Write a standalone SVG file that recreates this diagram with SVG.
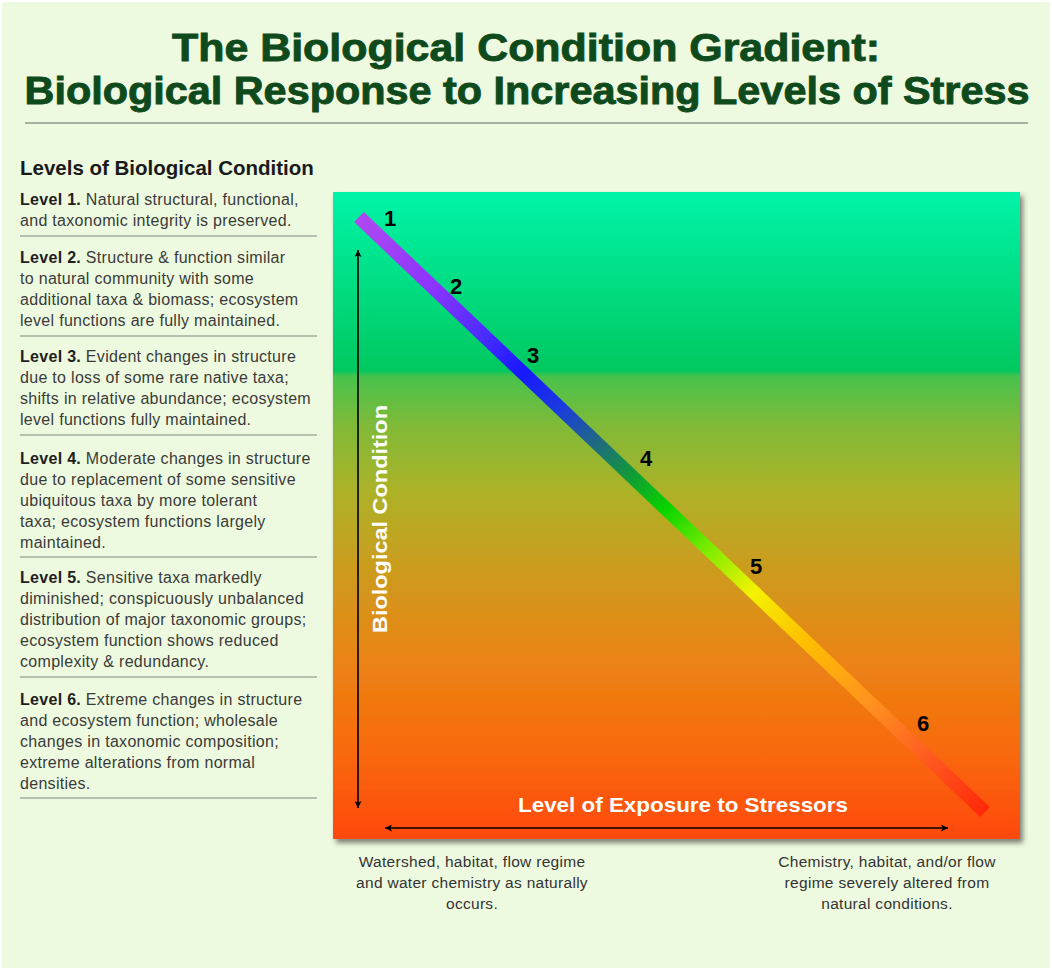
<svg xmlns="http://www.w3.org/2000/svg" width="1052" height="971" viewBox="0 0 1052 971">
  <defs>
    <style>
      .title { font-family: "Liberation Sans", Arial, sans-serif; font-weight: bold; font-size: 38px; fill: #0f4a1d; stroke: #0f4a1d; stroke-width: 0.9; }
      .head { font-family: "Liberation Sans", Arial, sans-serif; font-weight: bold; font-size: 20.5px; fill: #1a1a1a; }
      .lvl { font-family: "Liberation Sans", Arial, sans-serif; font-size: 16px; letter-spacing: 0.3px; fill: #3a3a3a; }
      .lvl tspan.b { font-weight: bold; fill: #1e1e1e; }
      .sep { stroke: #a4ac9c; stroke-width: 1.5; }
      .num { font-family: "Liberation Sans", Arial, sans-serif; font-weight: bold; font-size: 22px; fill: #000; }
      .axis { font-family: "Liberation Sans", Arial, sans-serif; font-weight: bold; font-size: 21px; fill: #ffffff; }
      .cap { font-family: "Liberation Sans", Arial, sans-serif; font-size: 15.5px; letter-spacing: 0.3px; fill: #333; text-anchor: middle; }
      .arr { stroke: #000; stroke-width: 1.6; fill: none; }
    </style>
    <linearGradient id="boxGrad" x1="0" y1="192" x2="0" y2="840" gradientUnits="userSpaceOnUse">
      <stop offset="0" stop-color="#00f4a8"/>
      <stop offset="0.275" stop-color="#00c860"/>
      <stop offset="0.285" stop-color="#48c24c"/>
      <stop offset="0.36" stop-color="#80ba38"/>
      <stop offset="0.46" stop-color="#acb228"/>
      <stop offset="0.58" stop-color="#cc9c1e"/>
      <stop offset="0.72" stop-color="#ea8414"/>
      <stop offset="0.86" stop-color="#f86a0c"/>
      <stop offset="1" stop-color="#ff4810"/>
    </linearGradient>
    <linearGradient id="barGrad" x1="359" y1="217" x2="985" y2="812" gradientUnits="userSpaceOnUse">
      <stop offset="0" stop-color="#b048f0"/>
      <stop offset="0.12" stop-color="#8a34ff"/>
      <stop offset="0.2" stop-color="#4a2cff"/>
      <stop offset="0.26" stop-color="#1818ff"/>
      <stop offset="0.32" stop-color="#1a3ae0"/>
      <stop offset="0.38" stop-color="#206a80"/>
      <stop offset="0.44" stop-color="#10a030"/>
      <stop offset="0.49" stop-color="#08d400"/>
      <stop offset="0.56" stop-color="#80ec00"/>
      <stop offset="0.63" stop-color="#f4f200"/>
      <stop offset="0.71" stop-color="#ffc000"/>
      <stop offset="0.82" stop-color="#ff9020"/>
      <stop offset="0.91" stop-color="#ff5a20"/>
      <stop offset="1" stop-color="#ff2808"/>
    </linearGradient>
    <filter id="shadow" x="-5%" y="-5%" width="112%" height="112%">
      <feDropShadow dx="3" dy="4" stdDeviation="2.5" flood-color="#303030" flood-opacity="0.6"/>
    </filter>
    <marker id="ah" viewBox="0 0 10 10" refX="10" refY="5" markerWidth="7" markerHeight="7" orient="auto-start-reverse" markerUnits="userSpaceOnUse">
      <path d="M0,0 L10,5 L0,10 L2.5,5 Z" fill="#000"/>
    </marker>
  </defs>

  <rect x="0" y="0" width="1052" height="971" fill="#ffffff"/>
  <rect x="2" y="2" width="1048" height="966" fill="#eefadf"/>

  <g id="title">
    <text class="title" x="526" y="61" text-anchor="middle" textLength="708" lengthAdjust="spacingAndGlyphs">The Biological Condition Gradient:</text>
    <text class="title" x="527" y="104" text-anchor="middle" textLength="1005" lengthAdjust="spacingAndGlyphs">Biological Response to Increasing Levels of Stress</text>
    <line x1="25" y1="123" x2="1028" y2="123" stroke="#a8b0a0" stroke-width="2"/>
  </g>

  <g id="legend">
    <text class="head" x="20" y="175">Levels of Biological Condition</text>
    <g id="level1">
      <text class="lvl" x="20" y="205"><tspan class="b">Level 1.</tspan> Natural structural, functional,</text>
      <text class="lvl" x="20" y="226">and taxonomic integrity is preserved.</text>
      <line class="sep" x1="20" y1="236" x2="317" y2="236"/>
    </g>
    <g id="level2">
      <text class="lvl" x="20" y="263"><tspan class="b">Level 2.</tspan> Structure &amp; function similar</text>
      <text class="lvl" x="20" y="284">to natural community with some</text>
      <text class="lvl" x="20" y="305">additional taxa &amp; biomass; ecosystem</text>
      <text class="lvl" x="20" y="326">level functions are fully maintained.</text>
      <line class="sep" x1="20" y1="336" x2="317" y2="336"/>
    </g>
    <g id="level3">
      <text class="lvl" x="20" y="362"><tspan class="b">Level 3.</tspan> Evident changes in structure</text>
      <text class="lvl" x="20" y="383">due to loss of some rare native taxa;</text>
      <text class="lvl" x="20" y="404">shifts in relative abundance; ecosystem</text>
      <text class="lvl" x="20" y="425">level functions fully maintained.</text>
      <line class="sep" x1="20" y1="435" x2="317" y2="435"/>
    </g>
    <g id="level4">
      <text class="lvl" x="20" y="464"><tspan class="b">Level 4.</tspan> Moderate changes in structure</text>
      <text class="lvl" x="20" y="485">due to replacement of some sensitive</text>
      <text class="lvl" x="20" y="506">ubiquitous taxa by more tolerant</text>
      <text class="lvl" x="20" y="527">taxa; ecosystem functions largely</text>
      <text class="lvl" x="20" y="548">maintained.</text>
      <line class="sep" x1="20" y1="557" x2="317" y2="557"/>
    </g>
    <g id="level5">
      <text class="lvl" x="20" y="583"><tspan class="b">Level 5.</tspan> Sensitive taxa markedly</text>
      <text class="lvl" x="20" y="604">diminished; conspicuously unbalanced</text>
      <text class="lvl" x="20" y="625">distribution of major taxonomic groups;</text>
      <text class="lvl" x="20" y="646">ecosystem function shows reduced</text>
      <text class="lvl" x="20" y="667">complexity &amp; redundancy.</text>
      <line class="sep" x1="20" y1="677" x2="317" y2="677"/>
    </g>
    <g id="level6">
      <text class="lvl" x="20" y="705"><tspan class="b">Level 6.</tspan> Extreme changes in structure</text>
      <text class="lvl" x="20" y="726">and ecosystem function; wholesale</text>
      <text class="lvl" x="20" y="747">changes in taxonomic composition;</text>
      <text class="lvl" x="20" y="768">extreme alterations from normal</text>
      <text class="lvl" x="20" y="789">densities.</text>
      <line class="sep" x1="20" y1="798" x2="317" y2="798"/>
    </g>
  </g>

  <g id="chart">
    <rect x="333" y="192" width="687" height="647" fill="url(#boxGrad)" filter="url(#shadow)"/>
    <line id="gradient-bar" x1="359" y1="217" x2="985" y2="812" stroke="url(#barGrad)" stroke-width="14" stroke-linecap="butt"/>
    <g id="numbers">
      <text class="num" x="384" y="226">1</text>
      <text class="num" x="450" y="294">2</text>
      <text class="num" x="527" y="363">3</text>
      <text class="num" x="640" y="466">4</text>
      <text class="num" x="750" y="574">5</text>
      <text class="num" x="917" y="731">6</text>
    </g>
    <text class="axis" transform="translate(387,519) rotate(-90)" text-anchor="middle" textLength="228" lengthAdjust="spacingAndGlyphs">Biological Condition</text>
    <text class="axis" x="683" y="812" text-anchor="middle" textLength="330" lengthAdjust="spacingAndGlyphs">Level of Exposure to Stressors</text>
  </g>

  <g id="connectors">
    <line class="arr" x1="358" y1="808" x2="358" y2="250" marker-start="url(#ah)" marker-end="url(#ah)"/>
    <line class="arr" x1="385" y1="828" x2="948" y2="828" marker-start="url(#ah)" marker-end="url(#ah)"/>
  </g>

  <g id="captions">
    <g id="caption-left">
      <text class="cap" x="472" y="867">Watershed, habitat, flow regime</text>
      <text class="cap" x="472" y="888">and water chemistry as naturally</text>
      <text class="cap" x="472" y="909">occurs.</text>
    </g>
    <g id="caption-right">
      <text class="cap" x="887" y="867">Chemistry, habitat, and/or flow</text>
      <text class="cap" x="887" y="888">regime severely altered from</text>
      <text class="cap" x="887" y="909">natural conditions.</text>
    </g>
  </g>
</svg>
